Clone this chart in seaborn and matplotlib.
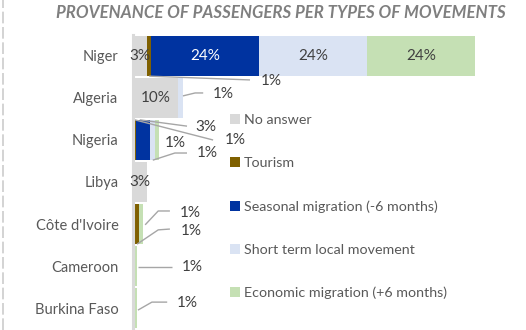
import matplotlib
matplotlib.use("Agg")
import matplotlib.pyplot as plt
import seaborn as sns
import pandas as pd
import numpy as np
from matplotlib.patches import Patch
from matplotlib.lines import Line2D

# ---- data (% of passengers) ----
countries = ["Niger", "Algeria", "Nigeria", "Libya", "Côte d'Ivoire", "Cameroon", "Burkina Faso"]
no_answer = [3, 10, 0, 3, 0, 0, 0]
tourism = [1, 0, 0.6, 0, 1.3, 0, 0]
seasonal = [24, 0, 3.2, 0, 0, 0, 0]
short_term = [24, 1.1, 1.1, 0, 0, 0, 0]
economic = [24, 0, 0.8, 0, 0.9, 0.8, 0.8]

series_names = ["No answer", "Tourism", "Seasonal migration (-6 months)",
                "Short term local movement", "Economic migration (+6 months)"]
series_values = [no_answer, tourism, seasonal, short_term, economic]
colors = ["#d9d9d9", "#7f6000", "#0033a0", "#dae3f3", "#c5e0b4"]
label_colors = ["#404040", "#404040", "#ffffff", "#404040", "#404040"]

# small segments get their label moved aside with a leader line:
# (series index, country index) -> (text position, leader polyline)
callouts = {
    (1, 0): ((30.7, 0.60), [(3.6, 0.48), (26.0, 0.57)]),
    (3, 1): ((20.0, 0.90), [(11.1, 0.95), (13.8, 0.88), (15.6, 0.88)]),
    (2, 2): ((16.2, 1.69), [(1.5, 1.52), (12.0, 1.67)]),
    (1, 2): ((22.7, 2.00), [(0.4, 1.52), (17.8, 2.00)]),
    (3, 2): ((9.3, 2.07), None),
    (4, 2): ((16.4, 2.31), [(4.4, 2.48), (9.3, 2.31), (12.0, 2.31)]),
    (4, 4): ((12.7, 3.74), [(2.7, 4.02), (5.6, 3.69), (8.2, 3.69)]),
    (1, 4): ((12.9, 4.17), [(0.9, 4.48), (5.6, 4.14), (8.2, 4.12)]),
    (4, 5): ((13.1, 5.02), [(1.1, 5.02), (8.7, 5.02)]),
    (4, 6): ((12.0, 5.88), [(1.1, 6.05), (4.2, 5.86), (7.6, 5.86)]),
}

sns.set_theme(style="white")
plt.rcParams["font.family"] = ["Lato", "DejaVu Sans"]

W, H = 526, 330
fig = plt.figure(figsize=(W / 100, H / 100), dpi=100)
ax = fig.add_axes([133 / W, 1 / H, 1 - 133 / W, 294 / H])

df = pd.DataFrame({name: vals for name, vals in zip(series_names, series_values)})
df["country"] = countries
cum = df[series_names].cumsum(axis=1)

# stacked bars: draw running totals from the outermost series inwards
for k in range(len(series_names) - 1, -1, -1):
    sns.barplot(x=cum[series_names[k]], y=df["country"], orient="h", order=countries,
                color=colors[k], saturation=1, width=0.97, linewidth=0, ax=ax)

ax.set_xlim(0, (W - 133) / 4.5)
ax.set_ylim(6.5, -0.5)
ax.set_xlabel("")
ax.set_ylabel("")
ax.set_xticks([])
for s in ["top", "right", "bottom"]:
    ax.spines[s].set_visible(False)
ax.spines["left"].set_color("#d9d9d9")
ax.spines["left"].set_linewidth(2.2)
ax.tick_params(axis="y", which="major", length=0, pad=10.5, labelsize=10.5, labelcolor="#595959")
ax.set_yticks(np.arange(-0.5, 7, 1), minor=True)
ax.tick_params(axis="y", which="minor", length=3.5, width=0.8, color="#d9d9d9", direction="out")

# value labels
for k, vals in enumerate(series_values):
    starts = cum[series_names[k]] - np.array(vals)
    for i, v in enumerate(vals):
        if v <= 0:
            continue
        txt = f"{v:.0f}%"
        if (k, i) in callouts:
            (tx, ty), line = callouts[(k, i)]
            if line is not None:
                xs, ys = zip(*line)
                ax.plot(xs, ys, color="#a6a6a6", lw=1.0, solid_capstyle="butt")
            ax.text(tx, ty, txt, ha="center", va="center", fontsize=11, color="#404040")
        else:
            ax.text(starts[i] + v / 2, i, txt, ha="center", va="center",
                    fontsize=11, color=label_colors[k])

handles = [Patch(facecolor=c, edgecolor="none") for c in colors]
fig.legend(handles, series_names, loc="upper left", bbox_to_anchor=(230 / W, 1 - 114 / H),
           frameon=False, fontsize=10.3, handlelength=0.68, handleheight=0.68,
           handletextpad=0.28, labelspacing=2.17, borderpad=0, borderaxespad=0,
           labelcolor="#595959")

fig.text(56 / W, 1 - 13 / H, "PROVENANCE OF PASSENGERS PER TYPES OF MOVEMENTS",
         ha="left", va="center", fontsize=12.2, fontweight="bold", style="italic", color="#7f7f7f")

fig.add_artist(Line2D([3 / W, 3 / W], [0, 1], transform=fig.transFigure,
                      color="#cccccc", lw=1.2, dashes=(7, 2.2)))

fig.savefig("out.png", dpi=100)
